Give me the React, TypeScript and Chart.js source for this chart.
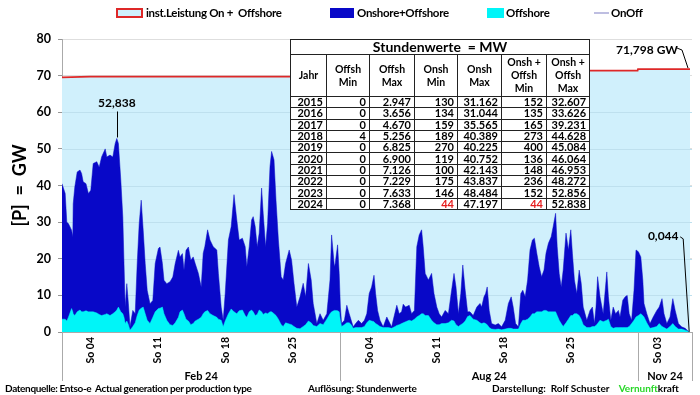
import React, { useEffect, useRef } from "react";
import { Chart, registerables } from "chart.js";

Chart.register(...registerables);

const FONT = 'Lato, "Liberation Sans", Arial, sans-serif';

// ---- axis / calendar data ----
const monthNames = ["Feb 24", "Aug 24", "Nov 24"];
const monthStartHour = [0, 696, 1440];
const xMaxHour = 1575;
const sundayMonth = [0, 0, 0, 0, 1, 1, 1, 1, 2];
const sundayDay = [4, 11, 18, 25, 4, 11, 18, 25, 3];
const yTicks = [0, 10, 20, 30, 40, 50, 60, 70, 80];

// ---- series data (hour of month, GW) ----
const febHours = [
  0, 8, 12, 16, 24, 27, 28, 32, 38, 45,
  49, 53, 60, 66, 72, 78, 87, 93, 99, 108,
  112, 120, 127, 133, 137, 141, 147, 152, 155, 158,
  162, 166, 170, 177, 183, 188, 193, 198, 203, 208,
  213, 220, 227, 233, 241, 245, 251, 255, 262, 270,
  277, 283, 291, 295, 301, 305, 310, 316, 322, 328,
  333, 341, 348, 353, 357, 364, 370, 378, 387, 391,
  398, 403, 408, 416, 423, 430, 437, 443, 451, 458,
  462, 468, 474, 478, 483, 488, 493, 499, 503, 509,
  514, 520, 524, 530, 535, 541, 548, 553, 559, 568,
  574, 580, 587, 595, 603, 609, 616, 623, 628, 637,
  645, 653, 662, 670, 674, 681, 683, 689, 693,
];
const febTotal = [
  40.5, 37.8, 30, 29.6, 27.8, 26, 35, 39.6, 43.7, 44.2,
  43.3, 41, 40.5, 37.8, 38.7, 46, 46.5, 45, 47.8, 50,
  47.8, 48.3, 47.8, 51.5, 52.838, 51.5, 41.5, 31.4, 18.7, 6.8,
  13.2, 7.7, 1.4, 5.9, 5, 18.7, 29.6, 36, 27.8, 18.7,
  11.4, 7.7, 8.6, 18.7, 22.8, 23.2, 18.7, 14.1, 13.2, 13.7,
  15, 18.7, 22.3, 20.5, 21.4, 16.9, 22.3, 23.2, 19.6, 20.5,
  18.7, 16, 12.3, 21.5, 23.3, 27.9, 25.1, 23.3, 22.4, 16,
  6.8, 3.2, 10.5, 25.1, 28.8, 37.5, 30.6, 25.1, 25.6, 23.3,
  17.8, 23.3, 30.6, 31.5, 28.8, 23.3, 27, 39.3, 32.4, 23.3,
  29.7, 45.2, 49.3, 47, 36, 25.1, 15.1, 14.2, 18.7, 22.4,
  19.6, 13.3, 6.8, 9.6, 13.3, 9.6, 18.7, 14.2, 7.8, 2.3,
  5, 3.2, 5, 14.2, 26.5, 17.8, 18.7, 23.8, 16,
];
const febOffshore = [
  3.5, 3.5, 3, 4, 6.4, 5.5, 5, 4.5, 5.5, 6,
  5.5, 5.5, 5.8, 5.5, 5.5, 5.5, 5.2, 4.8, 4.5, 4.8,
  5, 4.5, 5, 5.5, 6, 6.8, 5.5, 5, 4, 2.3,
  3, 2, 0.5, 1.5, 2.5, 4.5, 6, 6.5, 6.8, 5,
  3.2, 2.3, 4, 5.5, 6.4, 6.5, 6.8, 5, 3.2, 2,
  1.8, 2.5, 4, 5.5, 6, 5, 3.5, 3, 2, 2.3,
  3, 3.5, 4, 5, 5.5, 5.9, 5, 4.5, 4, 3.5,
  3.2, 1.4, 3, 5, 6.3, 5.5, 5, 5.8, 6, 4.5,
  4, 5.5, 6, 5.5, 4.5, 4.8, 6, 5.5, 4.8, 5.2,
  5, 5.5, 5.5, 5, 4.5, 3.5, 2, 1.5, 2.5, 2.2,
  2, 1.5, 1, 0.9, 1.5, 2, 3, 2.5, 1.8, 1.5,
  2.3, 2, 3.5, 5, 5.5, 5.9, 5.9, 5.8, 5.5,
];

const augHours = [
  0, 3, 10, 16, 22, 27, 32, 38, 45, 53, 60,
  66, 72, 78, 84, 88, 93, 99, 107, 116, 120,
  128, 137, 141, 147, 153, 157, 163, 172, 178, 185,
  191, 197, 203, 207, 212, 220, 228, 234, 241, 247,
  253, 262, 270, 278, 284, 289, 295, 301, 306, 312,
  318, 324, 332, 341, 349, 353, 359, 363, 367, 372,
  378, 387, 395, 403, 412, 420, 427, 432, 438, 445,
  451, 456, 462, 468, 474, 480, 485, 491, 497, 503,
  509, 514, 520, 527, 532, 538, 542, 547, 552, 557,
  564, 570, 576, 580, 585, 591, 597, 602, 607, 616,
  624, 630, 635, 639, 643, 649, 657, 666, 670, 676,
  682, 688, 695, 699, 706, 712, 717, 722, 728, 734,
  739,
];
const augTotal = [
  6.8, 2.3, 3.2, 7.3, 5, 3.2, 1.4, 2.3, 3.2, 2.3, 3.2,
  5, 10.5, 12.3, 15.5, 10.5, 5.9, 3.2, 1.4, 4.1, 3.2,
  1.4, 5.5, 7.3, 5, 5.5, 7.6, 6.8, 7.3, 5, 5.9,
  23.3, 26.5, 27.9, 23.3, 16, 14.2, 16, 10.5, 6.8, 5,
  4.1, 5.9, 5, 11.4, 16, 12.3, 5, 10.5, 18.3, 11.4,
  5.5, 5.5, 4.5, 6.8, 7.8, 6.8, 9.6, 10.5, 12.3, 5.9,
  2.3, 1.9, 2.3, 1.4, 3.2, 7.8, 9.6, 6.8, 2.3, 1.4,
  10.5, 11.4, 9.6, 14.2, 22.4, 25.1, 25.6, 21.5, 17.8, 15.1,
  16.9, 21.5, 24.2, 26, 28.8, 32.4, 23.3, 16, 12.3, 16.9,
  27, 22.4, 27.9, 21.5, 14.2, 10.5, 16.9, 13.3, 6.8, 3.2,
  5.9, 6.8, 2.3, 6.8, 15.1, 9.6, 5, 16.4, 9.6, 3.2,
  6.8, 5, 5.9, 4.1, 8.7, 9.6, 10, 5, 3.2, 11.4,
  22.4,
];
const augOffshore = [
  3, 1.5, 2, 2.5, 2.5, 2, 1, 1.2, 1.2, 1.2, 1.5,
  2.5, 3.2, 3, 2.8, 2.3, 2, 1.5, 1.2, 1.2, 1.2,
  1, 1.5, 1.8, 2, 2.3, 2.5, 2.8, 3.2, 3, 3.5,
  4.1, 4.5, 5, 5, 4.5, 4.5, 3.2, 2.5, 2, 2,
  2.3, 2.3, 2.5, 3.2, 3, 2, 1.5, 2, 2.3, 3,
  4.2, 4.5, 3.5, 3.2, 2.5, 2.3, 2.5, 2.3, 2, 1.2,
  0.8, 0.7, 0.8, 0.6, 0.8, 1, 1, 0.8, 0.8, 0.8,
  2.3, 3.2, 3.2, 3.5, 4.1, 5, 5, 5.5, 5.5, 5.5,
  5.9, 5.9, 5.5, 5.5, 5.5, 5.5, 4.5, 3.2, 2.3, 1.5,
  2.5, 3.5, 4.5, 4.5, 5, 5, 4.5, 3.5, 2, 1.2,
  1.2, 1.5, 1.5, 1.8, 2.3, 3.2, 2.8, 3.2, 3.5, 1.5,
  1, 1.2, 1.2, 1.2, 1.2, 1.2, 1.2, 1.5, 2.3, 3.2,
  4.1,
];

const novHours = [1, 7, 12, 15, 22, 30, 38, 47, 53, 60, 65, 72, 80, 87, 93, 101, 109, 118, 123, 128];
const novTotal = [21.9, 20.5, 14.2, 7.8, 5, 2.3, 4.1, 5.9, 6.8, 9.1, 5, 2.3, 4.1, 9.1, 5.9, 2.3, 1.4, 1, 0.5, 0.044];
const novOffshore = [4.5, 5, 4.5, 4.1, 2.5, 1, 1.2, 1.5, 2.3, 1.5, 1.2, 0.8, 1.5, 2.3, 1.5, 0.8, 0.8, 0.5, 0.3, 0.02];

// installed capacity (hour since start, GW)
const capHours = [0, 70, 695, 696, 1439, 1440, 1570];
const capGW = [69.5, 69.7, 69.7, 71.35, 71.35, 71.798, 71.798];

// ---- table data ----
const tblYears = ["2015", "2016", "2017", "2018", "2019", "2020", "2021", "2022", "2023", "2024"];
const tblOffshMin = ["0", "0", "0", "4", "0", "0", "0", "0", "0", "0"];
const tblOffshMax = ["2.947", "3.656", "4.670", "5.256", "6.825", "6.900", "7.126", "7.229", "7.633", "7.368"];
const tblOnshMin = ["130", "134", "159", "189", "270", "119", "100", "175", "146", "44"];
const tblOnshMax = ["31.162", "31.044", "35.565", "40.389", "40.225", "40.752", "42.143", "43.837", "48.484", "47.197"];
const tblTotMin = ["152", "135", "165", "273", "400", "136", "148", "236", "152", "44"];
const tblTotMax = ["32.607", "33.626", "39.231", "44.628", "45.084", "46.064", "46.953", "48.272", "52.856", "52.838"];

const CAP_LABEL = "inst.Leistung On +  Offshore";
const TOTAL_LABEL = "Onshore+Offshore";
const OFF_LABEL = "Offshore";
const ONOFF_LABEL = "OnOff";

const COL_FILL = "rgb(208,240,252)";
const COL_RED = "rgb(222,40,40)";
const COL_DARK = "rgb(8,8,200)";
const COL_CYAN = "rgb(0,245,248)";
const COL_ONOFF = "rgb(190,190,225)";

function buildPoints(hoursArr: number[][], valsArr: number[][]) {
  const pts: { x: number; y: number }[] = [];
  hoursArr.forEach((hs, m) => {
    const vs = valsArr[m];
    const n = Math.min(hs.length, vs.length);
    for (let i = 0; i < n; i++) pts.push({ x: monthStartHour[m] + hs[i], y: vs[i] });
  });
  return pts;
}

const sundayHours = sundayDay.map((d, i) => monthStartHour[sundayMonth[i]] + (d - 1) * 24);
const sundayLabels = sundayDay.map((d) => "So " + (d < 10 ? "0" + d : String(d)));

const fmt = (v: number, dec: number) => v.toFixed(dec).replace(".", ",");

const overlayPlugin = {
  id: "overlay",
  afterDatasetDraw(chart: any, args: any) {
    const ds = chart.data.datasets[args.index];
    if (ds.label !== CAP_LABEL) return;
    const { ctx, chartArea } = chart;
    const y = chart.scales.y;
    ctx.save();
    ctx.strokeStyle = "rgb(190,224,238)";
    ctx.lineWidth = 1;
    yTicks.forEach((t) => {
      if (t <= 0 || t >= 70) return;
      const py = Math.round(y.getPixelForValue(t)) + 0.5;
      ctx.beginPath();
      ctx.moveTo(chartArea.left, py);
      ctx.lineTo(chartArea.right, py);
      ctx.stroke();
    });
    ctx.restore();
  },
  afterDraw(chart: any) {
    const { ctx, chartArea } = chart;
    const x = chart.scales.x;
    const y = chart.scales.y;
    ctx.save();
    // month separators
    ctx.strokeStyle = "rgb(170,170,170)";
    ctx.lineWidth = 1;
    const bounds = [0, monthStartHour[1], monthStartHour[2], xMaxHour];
    bounds.forEach((h) => {
      const px = Math.round(x.getPixelForValue(h)) + 0.5;
      ctx.beginPath();
      ctx.moveTo(px, chartArea.bottom);
      ctx.lineTo(px, chartArea.bottom + 49);
      ctx.stroke();
    });
    // month labels
    ctx.fillStyle = "#000";
    ctx.font = "bold 11px " + FONT;
    ctx.textAlign = "center";
    ctx.textBaseline = "middle";
    monthNames.forEach((nm, i) => {
      const a = x.getPixelForValue(bounds[i]);
      const b = x.getPixelForValue(bounds[i + 1]);
      ctx.fillText(nm, (a + b) / 2, chartArea.bottom + 44);
    });
    // y title
    ctx.save();
    ctx.translate(20, (chartArea.top + chartArea.bottom) / 2);
    ctx.rotate(-Math.PI / 2);
    ctx.font = "bold 18px " + FONT;
    ctx.fillText("[P]  =  GW", 0, 0);
    ctx.restore();

    ctx.font = "bold 12px " + FONT;
    ctx.strokeStyle = "#000";
    ctx.lineWidth = 1;
    // peak annotation
    let pi = 0;
    febTotal.forEach((v, i) => { if (v > febTotal[pi]) pi = i; });
    const ppx = x.getPixelForValue(febHours[pi]);
    const ppy = y.getPixelForValue(febTotal[pi]);
    ctx.fillText(fmt(febTotal[pi], 3), ppx, ppy - 35);
    ctx.beginPath();
    ctx.moveTo(Math.round(ppx) + 0.5, ppy - 27);
    ctx.lineTo(Math.round(ppx) + 0.5, ppy - 1);
    ctx.stroke();
    // last value annotation
    const ln = novTotal.length - 1;
    const lx = x.getPixelForValue(monthStartHour[2] + novHours[ln]);
    const ly = y.getPixelForValue(novTotal[ln]);
    ctx.fillText(fmt(novTotal[ln], 3), lx - 26, ly - 96);
    ctx.beginPath();
    ctx.moveTo(lx - 9, ly - 95);
    ctx.lineTo(lx - 6, ly - 93);
    ctx.lineTo(lx, ly);
    ctx.stroke();
    // capacity annotation
    const cn = capGW.length - 1;
    const cx = x.getPixelForValue(capHours[cn]);
    const cy = y.getPixelForValue(capGW[cn]);
    ctx.fillText(fmt(capGW[cn], 3) + " GW", cx - 43, cy - 19);
    ctx.beginPath();
    ctx.moveTo(cx - 13, cy - 21);
    ctx.lineTo(cx - 8, cy - 19);
    ctx.lineTo(cx - 2, cy - 1);
    ctx.stroke();
    ctx.restore();
  },
};

const legendItems = [
  { label: CAP_LABEL, left: 116, kind: "cap", textLeft: 146 },
  { label: TOTAL_LABEL, left: 330, kind: "dark", textLeft: 357 },
  { label: OFF_LABEL, left: 487, kind: "cyan", textLeft: 506 },
  { label: ONOFF_LABEL, left: 594, kind: "line", textLeft: 611 },
];

function Legend() {
  return (
    <>
      {legendItems.map((it) => {
        let marker: any;
        if (it.kind === "cap")
          marker = { left: it.left, top: 8, width: 23, height: 6, background: COL_FILL, border: "2px solid " + COL_RED };
        else if (it.kind === "dark")
          marker = { left: it.left, top: 8, width: 24, height: 10, background: COL_DARK };
        else if (it.kind === "cyan")
          marker = { left: it.left, top: 8, width: 17, height: 10, background: COL_CYAN };
        else marker = { left: it.left, top: 12, width: 15, height: 2, background: COL_ONOFF };
        return (
          <React.Fragment key={it.label}>
            <div style={{ position: "absolute", ...marker }} />
            <div
              style={{
                position: "absolute",
                left: it.textLeft,
                top: 5,
                fontFamily: FONT,
                fontWeight: "bold",
                fontSize: 11.5,
                letterSpacing: "-0.3px",
                lineHeight: "16px",
                whiteSpace: "pre",
                color: "#000",
              }}
            >
              {it.label}
            </div>
          </React.Fragment>
        );
      })}
    </>
  );
}

function DataTable() {
  const colW = [36, 43, 45, 43, 44, 45, 43];
  const cell: any = { border: "1px solid #222", padding: "0 3px", textAlign: "right", lineHeight: "10px", height: 10 };
  const head: any = { border: "1px solid #222", padding: 0, textAlign: "center", lineHeight: "13px", fontSize: 10.5 };
  const headers = ["Jahr", "Offsh\nMin", "Offsh\nMax", "Onsh\nMin", "Onsh\nMax", "Onsh +\nOffsh\nMin", "Onsh +\nOffsh\nMax"];
  return (
    <table
      style={{
        position: "absolute",
        left: 290,
        top: 39,
        width: 300,
        borderCollapse: "collapse",
        tableLayout: "fixed",
        background: "#fff",
        fontFamily: FONT,
        fontWeight: "bold",
        fontSize: 11,
        color: "#000",
        border: "1.5px solid #222",
      }}
    >
      <colgroup>
        {colW.map((w, i) => (
          <col key={i} style={{ width: w }} />
        ))}
      </colgroup>
      <tbody>
        <tr style={{ height: 15 }}>
          <td colSpan={7} style={{ border: "1px solid #222", textAlign: "center", fontSize: 14, lineHeight: "14px", padding: 0 }}>
            Stundenwerte&nbsp; = MW
          </td>
        </tr>
        <tr style={{ height: 42 }}>
          {headers.map((h, i) => (
            <td key={i} style={{ ...head, whiteSpace: "pre" }}>
              {h}
            </td>
          ))}
        </tr>
        {tblYears.map((yr, r) => {
          const vals = [yr, tblOffshMin[r], tblOffshMax[r], tblOnshMin[r], tblOnshMax[r], tblTotMin[r], tblTotMax[r]];
          const isLast = r === tblYears.length - 1;
          return (
            <tr key={yr} style={{ height: 11.3 }}>
              {vals.map((v, c) => (
                <td
                  key={c}
                  style={{ ...cell, color: isLast && (c === 3 || c === 5) ? "rgb(230,30,30)" : "#000" }}
                >
                  {v}
                </td>
              ))}
            </tr>
          );
        })}
      </tbody>
    </table>
  );
}

function Footer() {
  const base: any = { position: "absolute", top: 381, fontFamily: FONT, fontWeight: "bold", fontSize: 10, lineHeight: "14px", whiteSpace: "pre", color: "#000" };
  return (
    <>
      <div style={{ ...base, left: 5, letterSpacing: "-0.35px" }}>Datenquelle: Entso-e  Actual generation per production type</div>
      <div style={{ ...base, left: 308, letterSpacing: "-0.2px" }}>Auflösung: Stundenwerte</div>
      <div style={{ ...base, left: 492 }}>
        Darstellung:  Rolf Schuster    <span style={{ color: "rgb(40,215,40)" }}>Vernunft</span>kraft
      </div>
    </>
  );
}

export default function App() {
  const ref = useRef<HTMLCanvasElement | null>(null);
  useEffect(() => {
    if (!ref.current) return;
    const capPts = capHours.map((h, i) => ({ x: h, y: capGW[i] }));
    const totalPts = buildPoints([febHours, augHours, novHours], [febTotal, augTotal, novTotal]);
    const offPts = buildPoints([febHours, augHours, novHours], [febOffshore, augOffshore, novOffshore]);
    const chart = new Chart(ref.current, {
      type: "line",
      data: {
        datasets: [
          { label: OFF_LABEL, data: offPts, order: 1, fill: "origin", backgroundColor: COL_CYAN, borderColor: COL_CYAN, borderWidth: 0.5, pointRadius: 0, tension: 0 },
          { label: TOTAL_LABEL, data: totalPts, order: 2, fill: "origin", backgroundColor: COL_DARK, borderColor: COL_DARK, borderWidth: 0.5, pointRadius: 0, tension: 0 },
          { label: CAP_LABEL, data: capPts, order: 3, fill: "origin", backgroundColor: COL_FILL, borderColor: COL_RED, borderWidth: 1.8, pointRadius: 0, tension: 0 },
          { label: ONOFF_LABEL, data: [], order: 0, borderColor: COL_ONOFF, borderWidth: 1, pointRadius: 0 },
        ],
      } as any,
      options: {
        animation: false,
        responsive: false,
        devicePixelRatio: 1,
        parsing: false as any,
        normalized: true,
        layout: { padding: { top: 39, right: 8, bottom: 0, left: 0 } },
        plugins: { legend: { display: false }, tooltip: { enabled: false }, title: { display: false } },
        scales: {
          x: {
            type: "linear",
            min: 0,
            max: xMaxHour,
            afterBuildTicks: (s: any) => {
              s.ticks = sundayHours.map((v) => ({ value: v }));
            },
            afterFit: (s: any) => {
              s.height = 63;
            },
            ticks: {
              autoSkip: false,
              minRotation: 90,
              maxRotation: 90,
              padding: 5,
              color: "#000",
              font: { family: FONT, size: 10.5, weight: "bold" },
              callback: (_v: any, i: number) => sundayLabels[i],
            },
            grid: { display: false, drawTicks: false },
            border: { display: true, color: "rgb(170,170,170)" },
          },
          y: {
            min: 0,
            max: 80,
            afterBuildTicks: (s: any) => {
              s.ticks = yTicks.map((v) => ({ value: v }));
            },
            afterFit: (s: any) => {
              s.width = 62;
            },
            ticks: {
              padding: 7,
              color: "#000",
              font: { family: FONT, size: 12.5, weight: "bold" },
              callback: (v: any) => String(v),
            },
            grid: { color: "rgb(222,222,222)", tickLength: 4, tickColor: "rgb(150,150,150)" },
            border: { display: true, color: "rgb(170,170,170)" },
          },
        },
      } as any,
      plugins: [overlayPlugin],
    });
    return () => chart.destroy();
  }, []);

  return (
    <div style={{ position: "absolute", left: 0, top: 0, width: 700, height: 395, background: "#fff", overflow: "hidden" }}>
      <canvas ref={ref} width={700} height={395} style={{ position: "absolute", left: 0, top: 0, width: 700, height: 395 }} />
      <Legend />
      <DataTable />
      <Footer />
    </div>
  );
}
